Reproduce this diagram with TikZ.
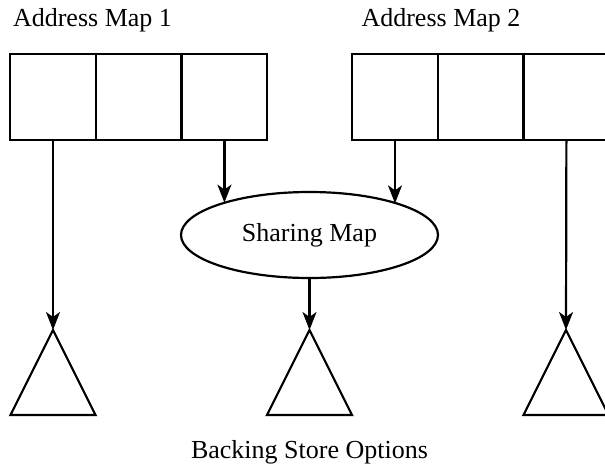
\documentclass[tikz,border=0pt]{standalone}
\usepackage{fontspec}
\setmainfont{Liberation Serif}
\usetikzlibrary{positioning, shapes, arrows.meta}

\begin{document}
\begin{tikzpicture}[x=1pt, y=-1pt, line width=2.2pt, inner sep=0pt, outer sep=0pt,
	font=\fontsize{26}{31}\selectfont,
	cell/.style={draw, minimum width=85.7pt, minimum height=86pt},
	link/.style={-{Stealth[length=18pt, width=14pt, inset=5pt]}}]
	\useasboundingbox (0,0) rectangle (605,471);

	\node[anchor=base] (L1) at (92.5,27) {Address Map 1};
	\node[anchor=base] (L2) at (441,27) {Address Map 2};

	\node[cell] (A1) at (53,97) {};
	\node[cell, right=0pt of A1] (A2) {};
	\node[cell, right=0pt of A2] (A3) {};

	\node[cell] (B1) at (395,97) {};
	\node[cell, right=0pt of B1] (B2) {};
	\node[cell, right=0pt of B2] (B3) {};

	\node[draw, ellipse, minimum width=257pt, minimum height=86pt] (S) at (309.5,235) {Sharing Map};

	\coordinate (T1) at (53,330);
	\coordinate (T2) at (309.5,330);
	\coordinate (T3) at (566,330);
	\draw (T1) -- ++(-42.5,85) -- ++(85,0) -- cycle;
	\draw (T2) -- ++(-42.5,85) -- ++(85,0) -- cycle;
	\draw (T3) -- ++(-42.5,85) -- ++(85,0) -- cycle;

	\draw[link] (A1.south) -- (T1);
	\draw[link] (A3.south) -- (A3.south |- S.159.5);
	\draw[link] (B1.south) -- (B1.south |- S.20.5);
	\draw[link] (S.south) -- (T2);
	\draw[link] (B3.south) -- (T3);

	\node[anchor=base] (L3) at (309.5,458) {Backing Store Options};
\end{tikzpicture}
\end{document}
